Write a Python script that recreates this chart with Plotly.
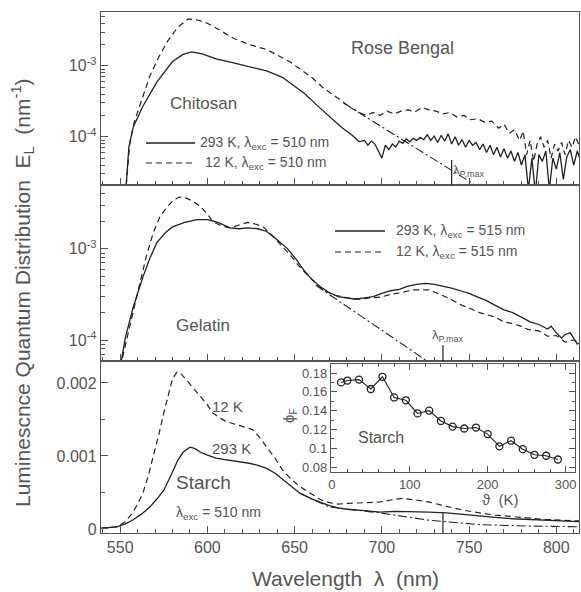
import plotly.graph_objects as go

W, H = 581, 592
def px(x): return x / W
def py(y): return 1 - y / H

# ---------------- data ----------------
# Top panel: Rose Bengal in Chitosan
top_solid_wl = [553, 555, 557.5, 563, 571, 580, 586, 591, 597, 605, 615, 624, 634, 643, 650, 656, 663, 670, 677, 683, 687,
                690, 692, 694, 696, 698, 700, 702, 704, 706, 708, 710, 712, 714, 716, 718, 720, 722, 724, 726, 728, 730,
                732, 734, 736, 738, 740, 742, 744, 746, 748, 750, 752, 754, 756, 758, 760, 762, 764, 766, 768, 770, 772,
                774, 776, 778, 780, 782, 784, 786, 788, 790, 792, 794, 796, 798, 800, 802, 804, 806, 808, 810, 812, 814]
top_solid = [1.5e-5, 7.2e-5, 1.38e-4, 2.7e-4, 5.9e-4, 1.15e-3, 1.45e-3, 1.58e-3, 1.48e-3, 1.26e-3, 1.1e-3, 9.8e-4, 8.5e-4,
             6.9e-4, 5.2e-4, 4.0e-4, 2.75e-4, 1.9e-4, 1.35e-4, 1.05e-4, 8.5e-5,
             8.9e-5, 7.6e-5, 8.7e-5, 7.9e-5, 6.3e-5, 5.0e-5, 7.6e-5, 6.6e-5, 7.9e-5, 7.2e-5, 8.7e-5, 8.1e-5, 9.3e-5,
             8.5e-5, 9.5e-5, 8.9e-5, 9.8e-5, 9.1e-5, 1.07e-4, 8.9e-5, 1.02e-4, 8.3e-5, 1.05e-4, 8.7e-5, 1.1e-4, 7.9e-5,
             1.0e-4, 7.6e-5, 9.1e-5, 7.1e-5, 8.9e-5, 7.6e-5, 8.3e-5, 6.6e-5, 7.9e-5, 6.0e-5, 7.6e-5, 5.6e-5, 7.1e-5,
             5.2e-5, 6.8e-5, 5.0e-5, 6.3e-5, 4.5e-5, 6.0e-5, 4.0e-5, 5.6e-5, 1.8e-5, 5.0e-5, 1.6e-5, 5.6e-5, 4.5e-5,
             6.3e-5, 1.8e-5, 5.0e-5, 3.5e-5, 6.0e-5, 2.5e-5, 5.2e-5, 6.6e-5, 4.0e-5, 6.3e-5, 4.5e-5]
top_dash_wl = [553, 555.5, 558, 561, 564, 567, 572, 577, 583, 589, 595, 600, 607, 615, 624, 634, 641, 647, 653, 660, 666,
               672, 678, 683, 687, 691, 695, 699, 703, 707, 711, 715, 719, 723, 727, 731, 735, 739, 743, 747, 751, 755,
               759, 763, 767, 770, 773, 776, 779, 781, 783, 785, 787, 789, 791, 793, 795, 797, 799, 801, 803, 805, 807,
               809, 811, 813]
top_dash = [1.5e-5, 8.1e-5, 1.6e-4, 2.7e-4, 4.5e-4, 7.2e-4, 1.32e-3, 2.2e-3, 3.5e-3, 4.6e-3, 4.4e-3, 4.0e-3, 3.2e-3,
            2.45e-3, 2.0e-3, 1.7e-3, 1.38e-3, 1.15e-3, 9.1e-4, 6.8e-4, 5.0e-4, 3.9e-4, 3.0e-4, 2.5e-4, 2.2e-4,
            2.0e-4, 2.2e-4, 2.0e-4, 2.3e-4, 2.1e-4, 2.3e-4, 2.4e-4, 2.24e-4, 2.6e-4, 2.4e-4, 2.3e-4, 2.1e-4, 2.2e-4,
            1.9e-4, 2.0e-4, 1.74e-4, 1.8e-4, 1.6e-4, 1.66e-4, 1.32e-4, 1.5e-4, 1.12e-4, 1.26e-4, 8.9e-5, 1.2e-4,
            5.6e-5, 8.9e-5, 4.5e-5, 7.9e-5, 1.0e-4, 7.1e-5, 8.9e-5, 5.0e-5, 7.9e-5, 6.3e-5, 8.3e-5, 5.6e-5, 8.9e-5,
            7.1e-5, 1.0e-4, 7.6e-5]
top_extrap_wl = [678, 760]
top_extrap = [3.0e-4, 1.66e-5]
top_lp_max = 740

# Middle panel: Rose Bengal in Gelatin
mid_solid_wl = [550, 553, 557.5, 563, 567, 571, 576, 580, 587, 594, 600, 606, 613, 618, 623, 629, 634, 640, 646, 651, 656,
                660, 665, 670, 675, 680, 685, 690, 695, 700, 705, 710, 715, 720, 725, 730, 735, 740, 745, 750, 755, 760,
                765, 770, 775, 780, 785, 790, 795, 797, 800, 803, 805, 808, 810, 812, 815]
mid_solid = [5e-5, 1.07e-4, 2.3e-4, 4.9e-4, 7.9e-4, 1.17e-3, 1.51e-3, 1.74e-3, 1.95e-3, 2.09e-3, 2.09e-3, 1.95e-3, 1.7e-3,
             1.66e-3, 1.7e-3, 1.66e-3, 1.55e-3, 1.26e-3, 1.0e-3, 7.6e-4, 5.6e-4, 4.6e-4, 3.8e-4, 3.3e-4, 3.0e-4,
             2.9e-4, 2.8e-4, 2.9e-4, 3.0e-4, 3.24e-4, 3.47e-4, 3.6e-4, 3.9e-4, 4.07e-4, 4.17e-4, 4.07e-4, 3.9e-4,
             3.7e-4, 3.47e-4, 3.24e-4, 2.95e-4, 2.7e-4, 2.4e-4, 2.14e-4, 2.0e-4, 1.78e-4, 1.58e-4, 1.48e-4, 1.32e-4,
             1.42e-4, 1.2e-4, 1.05e-4, 1.15e-4, 1.2e-4, 1.05e-4, 9.0e-5, 9.8e-5]
mid_dash_wl = [550, 554, 557.5, 561.4, 565, 569, 573, 577, 581, 584, 588, 592, 596, 600, 603, 608, 613, 618, 623, 628, 632,
               637, 643, 648, 653, 658, 663, 668, 673, 680, 687, 693, 699, 705, 711, 717, 722, 727, 732, 737, 742, 746,
               751, 756, 760, 765, 770, 775, 780, 784, 790, 795, 800, 805, 810, 815]
mid_dash = [5e-5, 1.07e-4, 2.2e-4, 4.3e-4, 8.3e-4, 1.51e-3, 2.3e-3, 2.9e-3, 3.47e-3, 3.7e-3, 3.6e-3, 3.3e-3, 2.9e-3, 2.4e-3,
            2.0e-3, 1.78e-3, 1.7e-3, 1.82e-3, 1.95e-3, 1.86e-3, 1.74e-3, 1.41e-3, 1.05e-3, 8.3e-4, 6.3e-4, 5.0e-4,
            4.0e-4, 3.4e-4, 3.1e-4, 2.9e-4, 2.8e-4, 2.9e-4, 2.95e-4, 3.16e-4, 3.3e-4, 3.55e-4, 3.55e-4, 3.55e-4,
            3.24e-4, 2.95e-4, 2.63e-4, 2.4e-4, 2.2e-4, 2.0e-4, 1.9e-4, 1.78e-4, 1.58e-4, 1.51e-4, 1.41e-4, 1.3e-4,
            1.26e-4, 1.1e-4, 1.12e-4, 9.5e-5, 1.0e-4, 8.9e-5]
mid_extrap_wl = [662, 730]
mid_extrap = [4.0e-4, 5.2e-5]
mid_lp_max = 735

# Bottom panel: Rose Bengal in Starch (linear)
bot_solid_wl = [539, 548, 553, 557, 562, 567, 571, 575, 580, 583, 586, 590, 593, 596, 600, 605, 610, 615, 620, 624, 629,
                634, 639, 643, 648, 653, 660, 665, 670, 675, 680, 690, 699, 708, 717, 727, 737, 746, 756, 765, 775, 784,
                794, 803, 813]
bot_solid = [0.00001, 0.00003, 0.00007, 0.00012, 0.0002, 0.0003, 0.00041, 0.00053, 0.00078, 0.00094, 0.00105, 0.00112,
             0.0011, 0.00105, 0.00101, 0.00097, 0.00095, 0.00093, 0.00092, 0.0009, 0.00087, 0.00083, 0.00076, 0.00068,
             0.00058, 0.00049, 0.00041, 0.00036, 0.00032, 0.00029, 0.00027, 0.00025, 0.00023, 0.00024, 0.00024,
             0.00023, 0.00022, 0.0002, 0.00017, 0.00016, 0.00014, 0.00013, 0.00011, 0.00011, 0.0001]
bot_dash_wl = [539, 548, 553, 557, 560, 563, 566, 569, 572, 575, 578, 580, 582.6, 585, 588, 592, 596, 600, 603, 607, 611,
               615, 619, 623, 626, 630, 634, 639, 643, 648, 653, 660, 665, 670, 675, 680, 690, 699, 706, 712, 718, 727,
               737, 746, 756, 765, 775, 784, 794, 803, 813]
bot_dash = [0.00001, 0.00003, 0.0001, 0.00022, 0.00034, 0.00049, 0.00072, 0.00099, 0.00128, 0.00159, 0.00189, 0.00206,
            0.00215, 0.00212, 0.00204, 0.00193, 0.00181, 0.0017, 0.00159, 0.00152, 0.00147, 0.00144, 0.00142, 0.00139,
            0.00136, 0.00125, 0.00112, 0.00096, 0.00081, 0.00068, 0.00058, 0.00047, 0.0004, 0.00036, 0.00034, 0.00035,
            0.00036, 0.00037, 0.0004, 0.00042, 0.0004, 0.00037, 0.00031, 0.00026, 0.00022, 0.00019, 0.00017, 0.00015,
            0.00013, 0.00012, 0.00011]
bot_extrap_wl = [653, 670, 699, 727, 756, 784, 815]
bot_extrap = [0.00049, 0.0003, 0.00022, 0.00012, 0.00006, 0.00004, 0.00003]
bot_lp_max = 735

# Inset: fluorescence quantum yield vs temperature (Starch)
inset_T = [12, 20, 35, 50, 65, 80, 95, 110, 125, 140, 155, 170, 185, 200, 215, 230, 245, 260, 275, 290]
inset_phi = [0.170, 0.172, 0.173, 0.163, 0.176, 0.154, 0.151, 0.137, 0.140, 0.129, 0.123, 0.121, 0.122, 0.115, 0.102,
             0.108, 0.099, 0.093, 0.092, 0.088]

x_ticks = [550, 600, 650, 700, 750, 800]
log_ticks = [1e-4, 1e-3]
log_ticktext = ["10<sup>-4</sup>", "10<sup>-3</sup>"]
lin_ticks = [0, 0.001, 0.002]
lin_ticktext = ["0", "0.001", "0.002"]
inset_xticks = [0, 100, 200, 300]
inset_yticks = [0.08, 0.10, 0.12, 0.14, 0.16, 0.18]
inset_yticktext = ["0.08", "0.1", "0.12", "0.14", "0.16", "0.18"]

# ---------------- styles ----------------
LINE = "#222222"
TXT = "#555555"
AX = "#555555"
FONT = "Liberation Sans"
SOLID = dict(color=LINE, width=1.3)
DASH = dict(color=LINE, width=1.2, dash="6px,4px")
DDOT = dict(color=LINE, width=1.1, dash="9px,3px,2px,3px")

fig = go.Figure()
def add(x, y, line, xa, ya):
    fig.add_trace(go.Scatter(x=x, y=y, mode="lines", line=line, xaxis=xa, yaxis=ya, hoverinfo="skip"))

add(top_solid_wl, top_solid, SOLID, "x", "y")
add(top_dash_wl, top_dash, DASH, "x", "y")
add(top_extrap_wl, top_extrap, DDOT, "x", "y")
add(mid_solid_wl, mid_solid, SOLID, "x2", "y2")
add(mid_dash_wl, mid_dash, DASH, "x2", "y2")
add(mid_extrap_wl, mid_extrap, DDOT, "x2", "y2")
add(bot_solid_wl, bot_solid, SOLID, "x3", "y3")
add(bot_dash_wl, bot_dash, DASH, "x3", "y3")
add(bot_extrap_wl, bot_extrap, DDOT, "x3", "y3")
fig.add_trace(go.Scatter(x=inset_T, y=inset_phi, mode="lines+markers", xaxis="x4", yaxis="y4",
                         line=dict(color=LINE, width=1.1),
                         marker=dict(symbol="circle-open", size=7, color=LINE, line=dict(width=1.3)),
                         hoverinfo="skip"))

xdom = [px(101), px(579)]
dom_top = [py(185), py(12)]
dom_mid = [py(361), py(185)]
dom_bot = [py(533), py(361)]

common = dict(showline=True, linecolor=AX, linewidth=1.2, mirror=True, ticks="inside", tickcolor=AX,
              showgrid=False, zeroline=False, automargin=False,
              tickfont=dict(family=FONT, size=16, color=TXT))
xcommon = dict(common, range=[539, 813], tickvals=x_ticks, ticklen=7,
               minor=dict(dtick=10, tick0=550, ticks="inside", ticklen=4, tickcolor=AX))
minor_log = [m * 10 ** e for e in (-5, -4, -3) for m in range(2, 10)]

layout = dict(
    width=W, height=H, margin=dict(l=0, r=0, t=0, b=0, autoexpand=False),
    paper_bgcolor="white", plot_bgcolor="white", showlegend=False,
    xaxis=dict(xcommon, domain=xdom, anchor="y", showticklabels=False),
    yaxis=dict(common, domain=dom_top, anchor="x", type="log", range=[-4.68, -2.24],
               tickvals=log_ticks, ticktext=log_ticktext, ticklen=7,
               minor=dict(tickvals=minor_log, ticks="inside", ticklen=4, tickcolor=AX)),
    xaxis2=dict(xcommon, domain=xdom, anchor="y2", showticklabels=False),
    yaxis2=dict(common, domain=dom_mid, anchor="x2", type="log", range=[-4.23, -2.30],
                tickvals=log_ticks, ticktext=log_ticktext, ticklen=7,
                minor=dict(tickvals=minor_log, ticks="inside", ticklen=4, tickcolor=AX)),
    xaxis3=dict(xcommon, domain=xdom, anchor="y3"),
    yaxis3=dict(common, domain=dom_bot, anchor="x3", range=[-0.000055, 0.0023],
                tickvals=lin_ticks, ticktext=lin_ticktext, ticklen=7,
                minor=dict(dtick=0.0005, tick0=0, ticks="inside", ticklen=4, tickcolor=AX)),
    xaxis4=dict(common, domain=[px(331), px(575)], anchor="y4", range=[-1, 312], tickvals=inset_xticks,
                mirror="ticks", ticklen=6, tickfont=dict(family=FONT, size=13, color=TXT),
                minor=dict(dtick=20, tick0=0, ticks="inside", ticklen=3, tickcolor=AX)),
    yaxis4=dict(common, domain=[py(472), py(364)], anchor="x4", range=[0.0747, 0.1896],
                tickvals=inset_yticks, ticktext=inset_yticktext, mirror="ticks", ticklen=6,
                tickfont=dict(family=FONT, size=13, color=TXT),
                minor=dict(dtick=0.01, tick0=0.08, ticks="inside", ticklen=3, tickcolor=AX)),
)
fig.update_layout(**layout)

# lambda_P,max markers
for lp, xr, yr, frac in [(top_lp_max, "x", "y", 0.145), (mid_lp_max, "x2", "y2", 0.09), (bot_lp_max, "x3", "y3", 0.12)]:
    fig.add_shape(type="line", xref=xr, yref=yr + " domain", x0=lp, x1=lp, y0=0, y1=frac,
                  line=dict(color=LINE, width=1.2))

# legend samples (paper coordinates)
for (x0, x1, y, ln) in [(146, 195, 143, SOLID), (146, 195, 163, DASH), (335, 385, 231, SOLID), (335, 385, 252, DASH)]:
    fig.add_shape(type="line", xref="paper", yref="paper", x0=px(x0), x1=px(x1), y0=py(y), y1=py(y), line=ln)

def ann(text, x, y, size, xanchor="left", angle=0):
    fig.add_annotation(text=text, x=px(x), y=py(y), xref="paper", yref="paper", showarrow=False,
                       xanchor=xanchor, yanchor="middle", textangle=angle,
                       font=dict(family=FONT, size=size, color=TXT))

ann("Rose Bengal", 402, 48, 18, "center")
ann("Chitosan", 203, 103, 17, "center")
ann("293 K, λ<sub>exc</sub> = 510 nm", 198, 143, 14)
ann("12 K, λ<sub>exc</sub> = 510 nm", 203, 163, 14)
ann("λ<sub>P,max</sub>", 451, 170, 13)
ann("293 K, λ<sub>exc</sub> = 515 nm", 394, 231, 14)
ann("12 K, λ<sub>exc</sub> = 515 nm", 394, 252, 14)
ann("Gelatin", 203, 325, 17, "center")
ann("λ<sub>P,max</sub>", 430, 335, 13)
ann("12 K", 210, 406, 15)
ann("293 K", 210, 448, 15)
ann("Starch", 174, 482, 19)
ann("λ<sub>exc</sub> = 510 nm", 174, 513, 14)
ann("Starch", 356, 437, 16)
ann("ϕ<sub>F</sub>", 289, 416, 15, "center", -90)
ann("ϑ  (K)", 500, 499, 15, "center")
ann("Luminescnce Quantum Distribution  E<sub>L</sub>  (nm<sup>-1</sup>)", 22, 293, 21, "center", -90)
ann("Wavelength  λ  (nm)", 345, 578, 21, "center")

fig.write_html("out.html", config={"displayModeBar": False, "staticPlot": True},
               post_script="document.body.style.margin='0px';")
